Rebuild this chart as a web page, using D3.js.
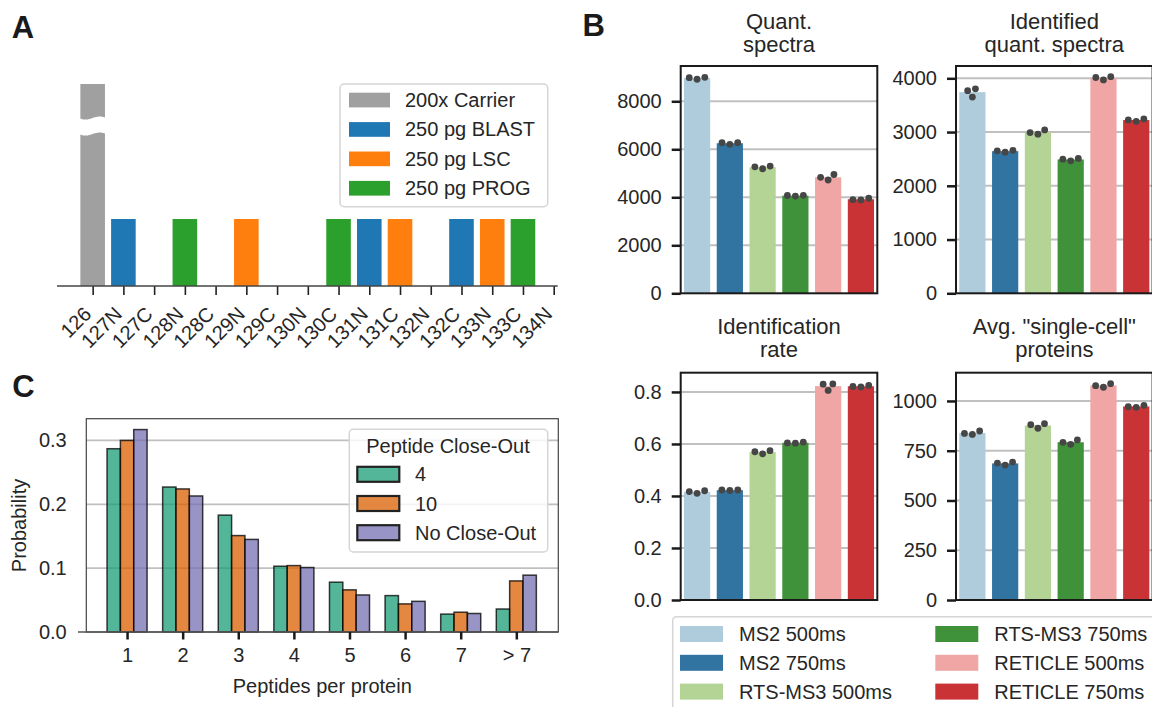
<!DOCTYPE html>
<meta charset="utf-8">
<script src="https://d3js.org/d3.v7.min.js"></script>
<style type="text/css">
body { margin:0; background:#fff; }
svg { font-family:"Liberation Sans", Arial, sans-serif; }
text { fill:#262626; }
.letter { font-weight:bold; font-size:31px; fill:#1a1a1a; }
.tick text { font-size:20px; fill:#262626; }
.axis path { stroke:none; }
.frame { fill:none; stroke:#1a1a1a; stroke-width:2; }
.grid line { stroke:#c0c0c0; stroke-width:2; }
.title { font-size:22px; text-anchor:middle; }
.legend text { font-size:20px; }
</style>
<body>
</body>
<script>

// ---- panel A: TMT channel layout ----
var channels = ["126","127N","127C","128N","128C","129N","129C","130N",
                "130C","131N","131C","132N","132C","133N","133C","134N"];
var channelSample = ["200x Carrier","250 pg BLAST",null,"250 pg PROG",null,"250 pg LSC",null,null,
                     "250 pg PROG","250 pg BLAST","250 pg LSC",null,"250 pg BLAST","250 pg LSC","250 pg PROG",null];
var channelLoad = [200,1,0,1,0,1,0,0,1,1,1,0,1,1,1,0];
var sampleNames = ["200x Carrier","250 pg BLAST","250 pg LSC","250 pg PROG"];
var sampleColors = ["#a0a0a0","#1f77b4","#ff7f0e","#2ca02c"];

// ---- panel B: method comparison (3 replicates each) ----
var methods = ["MS2 500ms","MS2 750ms","RTS-MS3 500ms","RTS-MS3 750ms","RETICLE 500ms","RETICLE 750ms"];
var methodColors = ["#aeccdb","#3274a1","#b3d495","#40923a","#efa6a5","#ca3335"];
var quantSpectra = [[8983,8917,9000],[6275,6208,6275],[5270,5190,5300],
                    [4080,4050,4075],[4830,4720,4950],[3900,3890,3960]];
var idQuantSpectra = [[3770,3650,3805],[2650,2625,2660],[2990,2960,3040],
                      [2495,2465,2510],[4015,3970,4030],[3225,3200,3245]];
var idRate = [[0.417,0.410,0.420],[0.423,0.421,0.423],[0.570,0.562,0.574],
              [0.604,0.603,0.607],[0.830,0.806,0.831],[0.821,0.819,0.825]];
var scProteins = [[837,832,849],[693,678,688],[881,863,886],
                  [792,782,804],[1077,1069,1087],[971,968,978]];

// ---- panel C: peptides per protein ----
var peptideBins = ["1","2","3","4","5","6","7","> 7"];
var closeOut = ["4","10","No Close-Out"];
var closeOutColors = ["#1b9e77","#d95f02","#7570b3"];
var probCO4 = [0.287,0.227,0.183,0.103,0.078,0.057,0.028,0.036];
var probCO10 = [0.300,0.224,0.151,0.104,0.066,0.044,0.031,0.080];
var probNoCO = [0.317,0.213,0.145,0.101,0.058,0.048,0.029,0.089];

var svg = d3.select("body").append("svg")
  .attr("width", 1152)
  .attr("height", 707);

// panel letters
svg.append("text").attr("class","letter").attr("x",11.7).attr("y",37.7).text("A");
svg.append("text").attr("class","letter").attr("x",582.6).attr("y",35.5).text("B");
svg.append("text").attr("class","letter").attr("x",12.3).attr("y",397.3).text("C");

// ================= A =================
var gA = svg.append("g");
var xA = d3.scaleLinear().domain([-1.16, 15.13]).range([57, 557.7]);
// broken axis: 0..1 linear, 1..200 compressed
var yA = d3.scaleLinear().domain([0, 1, 200]).range([286, 219, 84]);
var bwA = 0.8;

gA.selectAll(".barA")
  .data(channelLoad.map(function(v, i) { return {i:i, v:v, s:channelSample[i]}; })
    .filter(function(d) { return d.v > 0; }))
  .enter().append("rect")
  .attr("class","barA")
  .attr("x", function(d) { return xA(d.i - bwA/2); })
  .attr("width", xA(bwA) - xA(0))
  .attr("y", function(d) { return yA(d.v); })
  .attr("height", function(d) { return yA(0) - yA(d.v); })
  .attr("fill", function(d) { return sampleColors[sampleNames.indexOf(d.s)]; });

// axis break on the carrier bar
var breakCenter = yA(138);
var bx0 = xA(-bwA/2) - 2, bx1 = xA(bwA/2) + 2;
var wave = d3.line().curve(d3.curveBasis);
var topEdge = [], botEdge = [];
for (var k = 0; k <= 12; k++) {
  var px = bx0 + (bx1 - bx0) * k / 12;
  var off = 1.6 * Math.sin(k / 12 * 2 * Math.PI);
  topEdge.push([px, breakCenter - 8 + off]);
  botEdge.push([px, breakCenter + 8 + off]);
}
gA.append("path")
  .attr("d", wave(topEdge) + "L" + wave(botEdge.slice().reverse()).slice(1) + "Z")
  .attr("fill", "#fff");

var xAxisA = d3.axisBottom(xA)
  .tickValues(d3.range(channels.length))
  .tickFormat(function(i) { return channels[i]; })
  .tickSize(9)
  .tickPadding(0);

var axA = gA.append("g")
  .attr("class","axis")
  .attr("transform","translate(0,286)")
  .call(xAxisA);
axA.select(".domain").remove();
axA.selectAll(".tick line").attr("stroke","#222").attr("stroke-width",1.6);
axA.selectAll(".tick text")
  .attr("text-anchor","end")
  .attr("dy", null)
  .attr("transform","translate(-7,23) rotate(-45)");
gA.append("line")
  .attr("x1", xA.range()[0]).attr("x2", xA.range()[1])
  .attr("y1", 286).attr("y2", 286)
  .attr("stroke","#444").attr("stroke-width",1.6);

// legend A
var legA = gA.append("g").attr("class","legend");
legA.append("rect")
  .attr("x",340).attr("y",84).attr("width",207.7).attr("height",122.7)
  .attr("rx",4).attr("fill","#fff").attr("fill-opacity",0.8)
  .attr("stroke","#d5d5d5").attr("stroke-width",1.5);
sampleNames.forEach(function(name, i) {
  var cy = 100 + i * 29.4;
  legA.append("rect").attr("x",349).attr("y",cy - 7.3).attr("width",41).attr("height",14.7)
    .attr("fill", sampleColors[i]);
  legA.append("text").attr("x",405).attr("y",cy).attr("dy","0.35em").text(name);
});

// ================= B =================
function drawPanelB(frame, reps, yMax, ticks, fmt, title, titleY) {
  var g = svg.append("g");
  var x = d3.scaleBand().domain(methods).range([frame.x0, frame.x1])
    .paddingInner(0.2).paddingOuter(0.1);
  var y = d3.scaleLinear().domain([0, yMax]).range([frame.y1, frame.y0]);

  g.append("g").attr("class","grid")
    .selectAll("line").data(ticks.filter(function(t) { return t > 0; }))
    .enter().append("line")
    .attr("x1", frame.x0).attr("x2", frame.x1)
    .attr("y1", function(t) { return y(t); }).attr("y2", function(t) { return y(t); });

  g.selectAll(".barB").data(reps).enter().append("rect")
    .attr("class","barB")
    .attr("x", function(d, i) { return x(methods[i]); })
    .attr("width", x.bandwidth())
    .attr("y", function(d) { return y(d3.mean(d)); })
    .attr("height", function(d) { return frame.y1 - y(d3.mean(d)); })
    .attr("fill", function(d, i) { return methodColors[i]; });

  // simple beeswarm of the replicates
  reps.forEach(function(vals, i) {
    var cx = x(methods[i]) + x.bandwidth() / 2;
    var dist = 8;
    var pts = vals.map(function(v) { return {v:v, y:y(v)}; })
      .sort(function(a, b) { return a.v - b.v; });
    var placed = [];
    pts.forEach(function(p) {
      var cands = [0];
      placed.forEach(function(q) {
        var dy = p.y - q.y;
        if (Math.abs(dy) < dist) {
          var dx = Math.sqrt(dist * dist - dy * dy);
          cands.push(q.dx - dx, q.dx + dx);
        }
      });
      cands.sort(function(a, b) { return Math.abs(a) - Math.abs(b) || a - b; });
      p.dx = cands.find(function(c) {
        return placed.every(function(q) { return Math.hypot(c - q.dx, p.y - q.y) >= dist - 1e-6; });
      });
      placed.push(p);
    });
    g.selectAll(null).data(placed).enter().append("circle")
      .attr("cx", function(p) { return cx + p.dx; })
      .attr("cy", function(p) { return p.y; })
      .attr("r", 3.4)
      .attr("fill", "#464646");
  });

  var ax = g.append("g").attr("class","axis")
    .attr("transform","translate(" + frame.x0 + ",0)")
    .call(d3.axisLeft(y).tickValues(ticks).tickFormat(fmt).tickSize(9).tickPadding(10));
  ax.selectAll(".tick line").attr("stroke","#1a1a1a").attr("stroke-width",2.5);

  g.append("rect").attr("class","frame")
    .attr("x", frame.x0).attr("y", frame.y0)
    .attr("width", frame.x1 - frame.x0).attr("height", frame.y1 - frame.y0);

  var t = g.append("text").attr("class","title")
    .attr("x", (frame.x0 + frame.x1) / 2).attr("y", titleY);
  title.forEach(function(line, j) {
    t.append("tspan").attr("x", (frame.x0 + frame.x1) / 2).attr("dy", j ? 23 : 0).text(line);
  });
}

drawPanelB({x0:680.7, x1:877.3, y0:66, y1:293.3}, quantSpectra, 9470,
  [0,2000,4000,6000,8000], d3.format("d"), ["Quant.","spectra"], 28.5);
drawPanelB({x0:956, x1:1152.6, y0:66, y1:293.3}, idQuantSpectra, 4229,
  [0,1000,2000,3000,4000], d3.format("d"), ["Identified","quant. spectra"], 28.5);
drawPanelB({x0:680.7, x1:877.3, y0:372.7, y1:600}, idRate, 0.874,
  [0,0.2,0.4,0.6,0.8], d3.format(".1f"), ["Identification","rate"], 333.5);
drawPanelB({x0:956, x1:1152.6, y0:372.7, y1:600}, scProteins, 1142,
  [0,250,500,750,1000], d3.format("d"), ["Avg. \"single-cell\"","proteins"], 333.5);

// legend B
var legB = svg.append("g").attr("class","legend");
legB.append("rect")
  .attr("x",672.7).attr("y",616.7).attr("width",500).attr("height",120)
  .attr("rx",4).attr("fill","#fff").attr("stroke","#d5d5d5").attr("stroke-width",1.5);
methods.forEach(function(name, i) {
  var col = Math.floor(i / 3), row = i % 3;
  var px = col ? 935.3 : 680, tx = col ? 994.3 : 739;
  var cy = 634 + row * 28.8;
  legB.append("rect").attr("x",px).attr("y",cy - 8).attr("width",43).attr("height",16)
    .attr("fill", methodColors[i]);
  legB.append("text").attr("x",tx).attr("y",cy).attr("dy","0.35em").text(name);
});

// ================= C =================
var gC = svg.append("g");
var xC = d3.scaleLinear().domain([-0.733, 7.755]).range([86.3, 558.3]);
var yC = d3.scaleLinear().domain([0, 0.334]).range([632, 418.7]);
var bwC = 0.24;
var seriesC = [probCO4, probCO10, probNoCO];

gC.append("g").attr("class","grid")
  .selectAll("line").data([0.1,0.2,0.3]).enter().append("line")
  .attr("x1", xC.range()[0]).attr("x2", xC.range()[1])
  .attr("y1", function(t) { return yC(t); }).attr("y2", function(t) { return yC(t); })
  .style("stroke-width", 1.8);

seriesC.forEach(function(vals, k) {
  gC.selectAll(null).data(vals).enter().append("rect")
    .attr("x", function(d, i) { return xC(i + (k - 1.5) * bwC); })
    .attr("width", xC(bwC) - xC(0))
    .attr("y", function(d) { return yC(d); })
    .attr("height", function(d) { return yC(0) - yC(d); })
    .attr("fill", closeOutColors[k]).attr("fill-opacity", 0.75)
    .attr("stroke", "#000").attr("stroke-opacity", 0.75).attr("stroke-width", 1.5);
});

// frame
gC.append("rect")
  .attr("x", 86.3).attr("y", 418.7).attr("width", 472).attr("height", 213.3)
  .attr("fill","none").attr("stroke","#444").attr("stroke-width",1.2);
gC.append("line").attr("x1",78).attr("x2",558.3).attr("y1",632).attr("y2",632)
  .attr("stroke","#555").attr("stroke-width",1.6);

var axCx = gC.append("g").attr("class","axis")
  .attr("transform","translate(0,632)")
  .call(d3.axisBottom(xC).tickValues(d3.range(peptideBins.length))
    .tickFormat(function(i) { return peptideBins[i]; }).tickSize(7.5).tickPadding(8));
axCx.selectAll(".tick line").attr("stroke","#1a1a1a").attr("stroke-width",2.5);

var axCy = gC.append("g").attr("class","axis")
  .attr("transform","translate(86.3,0)")
  .call(d3.axisLeft(yC).tickValues([0,0.1,0.2,0.3]).tickFormat(d3.format(".1f"))
    .tickSize(0).tickPadding(19.6));

gC.append("text").attr("x", 322.3).attr("y", 693).attr("text-anchor","middle")
  .style("font-size","20px").text("Peptides per protein");
gC.append("text").attr("transform","translate(26,525.5) rotate(-90)")
  .attr("text-anchor","middle").style("font-size","20px").text("Probability");

// legend C
var legC = gC.append("g").attr("class","legend");
legC.append("rect")
  .attr("x",349.3).attr("y",429.3).attr("width",198.4).attr("height",122.7)
  .attr("rx",4).attr("fill","#fff").attr("fill-opacity",0.8)
  .attr("stroke","#d5d5d5").attr("stroke-width",1.5);
legC.append("text").attr("x",448).attr("y",446).attr("dy","0.35em")
  .attr("text-anchor","middle").text("Peptide Close-Out");
closeOut.forEach(function(name, k) {
  var cy = 474.3 + k * 29.2;
  legC.append("rect").attr("x",357.3).attr("y",cy - 7.5).attr("width",42).attr("height",15)
    .attr("fill", closeOutColors[k]).attr("fill-opacity",0.75)
    .attr("stroke","#222").attr("stroke-width",2.2);
  legC.append("text").attr("x",415).attr("y",cy).attr("dy","0.35em").text(name);
});

</script>
